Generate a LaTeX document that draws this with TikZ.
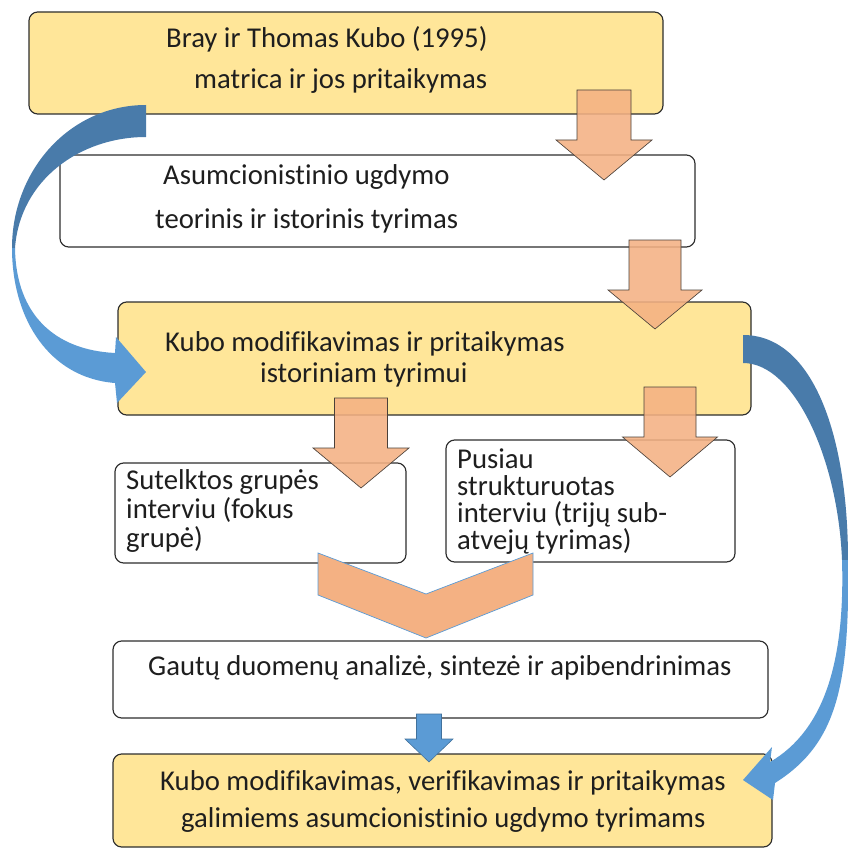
\documentclass[tikz,border=0pt]{standalone}
\usepackage{fontspec}
\setmainfont[Ligatures=NoCommon]{Carlito}
\usetikzlibrary{fit}

\definecolor{boxgold}{HTML}{FFE699}
\definecolor{boxedge}{HTML}{2E2E2E}
\definecolor{peach}{HTML}{F4B183}
\definecolor{peachedge}{HTML}{4A4039}
\definecolor{flowblue}{HTML}{5B9BD5}
\definecolor{flowbluedark}{HTML}{497BAA}
\definecolor{flowblueedge}{HTML}{41719C}
\definecolor{inktext}{HTML}{1E1E1E}

% downward block arrow: [style]{centre x}{shaft half width}{head half width}{top}{head base}{tip}
\newcommand{\blkdown}[7][]{%
  \draw[#1] (#2-#3,#5) -- (#2+#3,#5) -- (#2+#3,#6) -- (#2+#4,#6)
    -- (#2,#7) -- (#2-#4,#6) -- (#2-#3,#6) -- cycle;}
% fixed first-line height for the stacked labels
\newcommand{\firstline}{\rule{0pt}{20pt}}
% keep the stacked lines at exactly their baseline distance
\lineskiplimit=-30pt

\begin{document}
\begin{tikzpicture}[x=0.03cm,y=-0.03cm,
  card/.style={draw=boxedge, line width=1pt, rounded corners=0.26cm, inner sep=0pt},
  goldcard/.style={card, fill=boxgold},
  plaincard/.style={card, fill=white},
  lbl/.style={anchor=base west, inner sep=0pt, text=inktext, font=\fontsize{24.5}{28}\selectfont},
  stack/.style={anchor=north west, inner sep=0pt, align=left, text=inktext,
    font=\fontsize{24.5}{#1}\selectfont},
  peacharrow/.style={fill=peach, fill opacity=0.88, draw=peachedge, line width=0.55pt},
  chevron/.style={fill=peach, draw=flowblue, line width=0.6pt, line join=miter},
  bluearrow/.style={fill=flowblue, draw=flowblueedge, line width=0.5pt},
]
\useasboundingbox (0,0) rectangle (847,849);

% boxes
\node[goldcard,  fit={(29,12) (663,114)}]   (b1) {};
\node[plaincard, fit={(60,155) (695,247)}]  (b2) {};
\node[goldcard,  fit={(118,302) (751,415)}] (b3) {};
\node[plaincard, fit={(115,463) (406,563)}] (b4) {};
\node[plaincard, fit={(446,440) (735,562)}] (b5) {};
\node[plaincard, fit={(113,641) (768,718)}] (b6) {};
\node[goldcard,  fit={(113,754) (772,847)}] (b7) {};

% box texts
\node[lbl] (t1a) at (166,48)  {Bray ir Thomas Kubo (1995)};
\node[lbl] (t1b) at (194,89)  {matrica ir jos pritaikymas};
\node[lbl] (t2a) at (163,185) {Asumcionistinio ugdymo};
\node[lbl] (t2b) at (155,228) {teorinis ir istorinis tyrimas};
\node[lbl] (t3a) at (165,351) {Kubo modifikavimas ir pritaikymas};
\node[lbl] (t3b) at (260,382) {istoriniam tyrimui};
\node[stack=25.1] (t4) at (126,465.5)
  {\firstline Sutelktos grupės\\interviu (fokus\\grupė)};
\node[stack=23] (t5) at (457,444.5)
  {\firstline Pusiau\\strukturuotas\\interviu (trijų sub-\\atvejų tyrimas)};
\node[lbl] (t6a) at (148,675) {Gautų duomenų analizė, sintezė ir apibendrinimas};
\node[lbl] (t7a) at (160,790) {Kubo modifikavimas, verifikavimas ir pritaikymas};
\node[lbl] (t7b) at (181,827) {galimiems asumcionistinio ugdymo tyrimams};

% orange block arrows
\blkdown[peacharrow]{604}{27}{48}{90}{140}{180}
\blkdown[peacharrow]{655}{26}{47}{240}{290}{329}
\blkdown[peacharrow]{361}{26.5}{48}{398}{448}{488}
\blkdown[peacharrow]{670}{26}{47.5}{387}{437}{477}

% merging chevron
\draw[chevron] (318,553) -- (426,594) -- (533,553) -- (533,595)
  -- (426,638) -- (318,595) -- cycle;

% small blue arrow
\blkdown[bluearrow]{429}{12.5}{24}{714}{739}{762}

% curved arrow on the left: back face, then front face with head
\fill[flowbluedark] (146,105) .. controls (70,105) and (12,170) .. (12,248)
  -- (15,248) .. controls (20,180) and (80,137) .. (146,137) -- cycle;
\fill[flowblue] (12,248) .. controls (12,320) and (50,378) .. (115,383)
  -- (117,403) -- (146,372) -- (116,337) -- (115,353)
  .. controls (55,350) and (16,315) .. (15,248) -- cycle;

% curved arrow on the right
\fill[flowbluedark] (743,335) .. controls (815,335) and (848,440) .. (848,560)
  -- (842,560) .. controls (838,460) and (795,363) .. (743,363) -- cycle;
\fill[flowblue] (848,560) .. controls (850,690) and (835,745) .. (775,783)
  -- (773,800) -- (743,780) -- (772,747) -- (770,762)
  .. controls (825,730) and (845,660) .. (842,560) -- cycle;
\end{tikzpicture}
\end{document}
